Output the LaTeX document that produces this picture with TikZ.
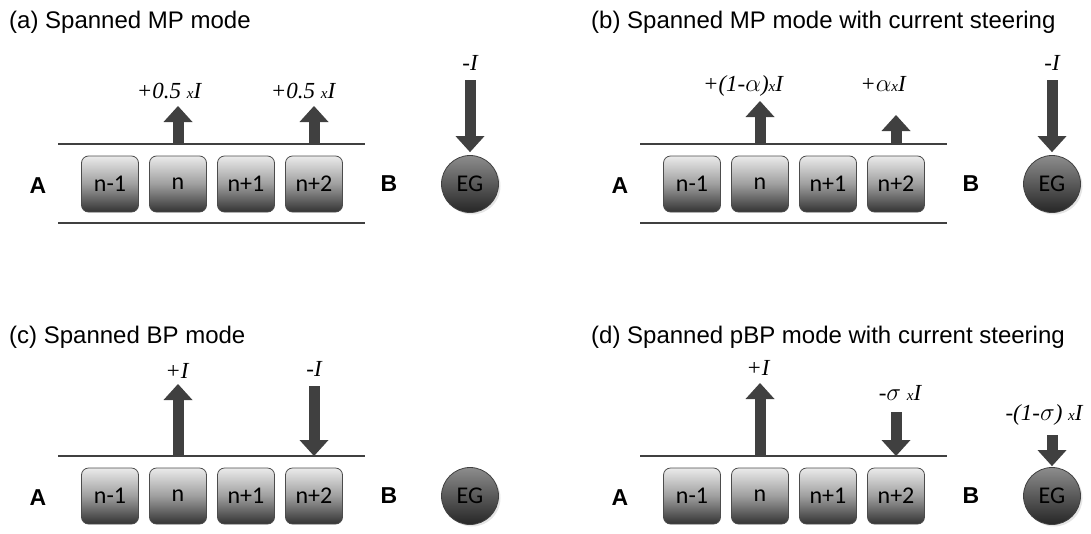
\documentclass[tikz,border=0pt]{standalone}
\usepackage{fontspec}
\setmainfont{Liberation Sans}[BoldFont={Liberation Sans Bold}]
\newfontfamily\calib{Carlito}
\newfontfamily\tms{Liberation Serif}
\usetikzlibrary{arrows.meta,shadows}
\definecolor{ink}{HTML}{404040}
\newcommand{\sx}{{\fontsize{15}{15}\selectfont x}}
\tikzset{
  elec/.style={draw=black!70, line width=0.8pt, rounded corners=7pt, minimum width=57pt, minimum height=56pt, inner sep=0pt,
    top color=black!8, bottom color=black!80, middle color=black!38,
    font=\calib\fontsize{24}{24}\selectfont},
  eg/.style={circle, draw=black!75, line width=0.8pt, minimum size=57pt, inner sep=0pt,
    top color=black!45, bottom color=black!85,
    drop shadow={shadow xshift=2pt, shadow yshift=-2pt, opacity=0.25, fill=black!40},
    font=\calib\fontsize{24}{24}\selectfont},
  cur/.style={draw=ink, line width=11pt, -{Triangle[length=16pt,width=29pt,line width=0pt]}},
  wire/.style={draw=ink, line width=1.8pt},
  side/.style={font=\bfseries\fontsize{23}{23}\selectfont},
  ttl/.style={anchor=base west, inner sep=0pt, font=\fontsize{24}{24}\selectfont},
  lab/.style={anchor=base, inner sep=0pt, font=\tms\itshape\fontsize{23}{23}\selectfont},
}
\begin{document}
\begin{tikzpicture}[x=1pt,y=-1pt]
\useasboundingbox (0,0) rectangle (1091,533);

% titles
\node[ttl] (ta) at (9,28) {(a) Spanned MP mode};
\node[ttl] (tb) at (591,28) {(b) Spanned MP mode with current steering};
\node[ttl] (tc) at (9,343) {(c) Spanned BP mode};
\node[ttl] (td) at (591,343) {(d) Spanned pBP mode with current steering};

% ---------- panel (a)
\begin{scope}[shift={(0,0)}]
\coordinate (aL) at (58,144); \coordinate (aR) at (365,144);
\coordinate (aLb) at (58,223); \coordinate (aRb) at (365,223);
\draw[wire] (aL) -- (aR);
\draw[wire] (aLb) -- (aRb);
\node[elec] (a1) at (110,184) {n-1};
\node[elec] (a2) at (178,184) {n};
\node[elec] (a3) at (246,184) {n+1};
\node[elec] (a4) at (314,184) {n+2};
\node[side] (aA) at (38,186) {A};
\node[side] (aB) at (389,184) {B};
\node[eg] (aEG) at (470,184) {EG};
\coordinate (at2) at (178,106); \coordinate (at4) at (314,106); \coordinate (atE) at (470,80);
\draw[cur] (a2 |- aL) -- (at2);
\draw[cur] (a4 |- aL) -- (at4);
\draw[cur] (atE) -- ([yshift=3pt]aEG.north);
\node[lab] (al2) at (169,98) {+0.5 \sx I};
\node[lab] (al4) at (303,98) {+0.5 \sx I};
\node[lab] (alE) at (470,70) {-I};
\end{scope}

% ---------- panel (b)
\begin{scope}[shift={(582,0)}]
\coordinate (bL) at (58,144); \coordinate (bR) at (365,144);
\coordinate (bLb) at (58,223); \coordinate (bRb) at (365,223);
\draw[wire] (bL) -- (bR);
\draw[wire] (bLb) -- (bRb);
\node[elec] (b1) at (110,184) {n-1};
\node[elec] (b2) at (178,184) {n};
\node[elec] (b3) at (246,184) {n+1};
\node[elec] (b4) at (314,184) {n+2};
\node[side] (bA) at (38,186) {A};
\node[side] (bB) at (389,184) {B};
\node[eg] (bEG) at (470,184) {EG};
\coordinate (bt2) at (178,101); \coordinate (bt4) at (314,115); \coordinate (btE) at (470,80);
\draw[cur] (b2 |- bL) -- (bt2);
\draw[cur] (b4 |- bL) -- (bt4);
\draw[cur] (btE) -- ([yshift=3pt]bEG.north);
\node[lab] (bl2) at (161,91) {+(1-$\alpha$)\sx I};
\node[lab] (bl4) at (301,91) {+$\alpha$\sx I};
\node[lab] (blE) at (470,70) {-I};
\end{scope}

% ---------- panel (c)
\begin{scope}[shift={(0,312)}]
\coordinate (cL) at (58,144); \coordinate (cR) at (365,144);
\draw[wire] (cL) -- (cR);
\node[elec] (c1) at (110,184) {n-1};
\node[elec] (c2) at (178,184) {n};
\node[elec] (c3) at (246,184) {n+1};
\node[elec] (c4) at (314,184) {n+2};
\node[side] (cA) at (38,186) {A};
\node[side] (cB) at (389,184) {B};
\node[eg] (cEG) at (470,184) {EG};
\coordinate (ct2) at (178,72); \coordinate (ct4) at (314,74);
\draw[cur] (c2 |- cL) -- (ct2);
\draw[cur] (ct4) -- (c4 |- cL);
\node[lab] (cl2) at (177,66) {+I};
\node[lab] (cl4) at (314,64) {-I};
\end{scope}

% ---------- panel (d)
\begin{scope}[shift={(582,312)}]
\coordinate (dL) at (58,144); \coordinate (dR) at (365,144);
\draw[wire] (dL) -- (dR);
\node[elec] (d1) at (110,184) {n-1};
\node[elec] (d2) at (178,184) {n};
\node[elec] (d3) at (246,184) {n+1};
\node[elec] (d4) at (314,184) {n+2};
\node[side] (dA) at (38,186) {A};
\node[side] (dB) at (389,184) {B};
\node[eg] (dEG) at (470,184) {EG};
\coordinate (dt2) at (178,71); \coordinate (dt4) at (314,100); \coordinate (dtE) at (470,123);
\draw[cur] (d2 |- dL) -- (dt2);
\draw[cur] (dt4) -- (d4 |- dL);
\draw[cur] (dtE) -- ([yshift=1pt]dEG.north);
\node[lab] (dl2) at (176,63) {+I};
\node[lab] (dl4) at (318,88) {-$\sigma$ \sx I};
\node[lab] (dlE) at (462,108) {-(1-$\sigma$) \sx I};
\end{scope}
\end{tikzpicture}
\end{document}
